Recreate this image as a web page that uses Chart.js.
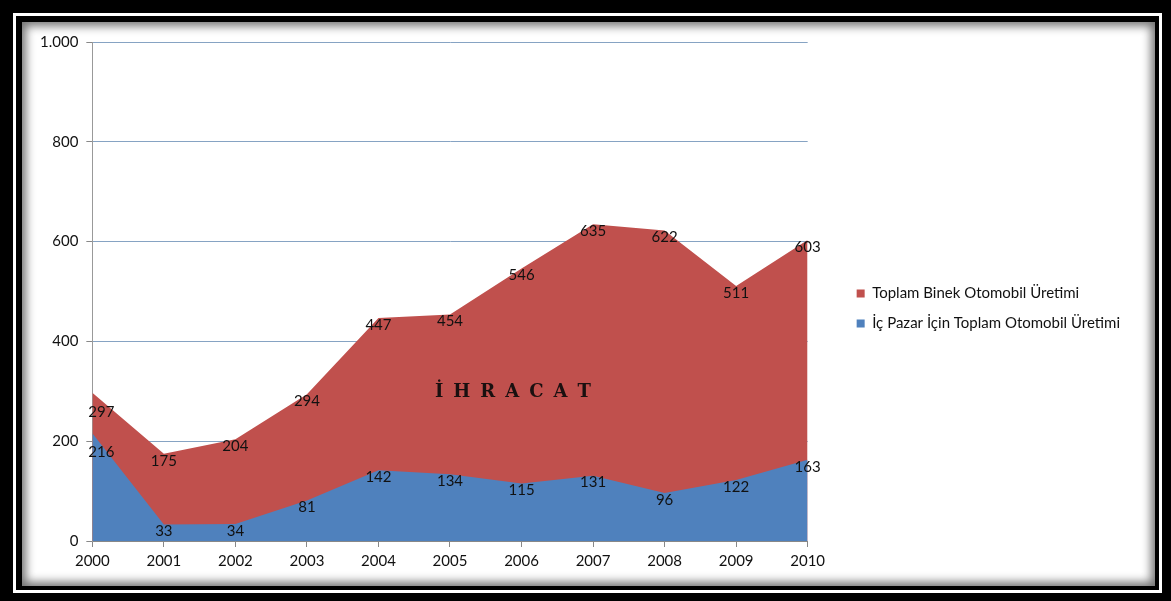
<!DOCTYPE html>
<html lang="tr">
<head>
<meta charset="utf-8">
<title>Otomobil Üretimi 2000-2010</title>
<script src="https://cdn.jsdelivr.net/npm/chart.js@4.4.1/dist/chart.umd.min.js"></script>
<style>
  html, body { margin: 0; padding: 0; }
  body { width: 1171px; height: 601px; background: #000; position: relative; overflow: hidden; }
  #cerceve { position: absolute; left: 13px; top: 13px; width: 1143px; height: 574px; border: 3px solid #fff; }
  #ic { position: absolute; left: 0; top: 0; right: 0; bottom: 0; border-style: solid; border-color: #000;
        border-width: 6px 4px 4px 6px; background: #fff;
        box-shadow: inset 0 0 10px 4px rgba(0,0,0,0.55); }
  #kutu { position: absolute; left: 22px; top: 22px; width: 1133px; height: 564px; }
</style>
</head>
<body>
<div id="cerceve"><div id="ic"></div></div>
<div id="kutu"><canvas id="grafik"></canvas></div>
<script>
// yıllar ve üretim değerleri (bin adet)
const yillar = ['2000', '2001', '2002', '2003', '2004', '2005', '2006', '2007', '2008', '2009', '2010'];
const toplamUretim = [297, 175, 204, 294, 447, 454, 546, 635, 622, 511, 603];
const icPazarUretim = [216, 33, 34, 81, 142, 134, 115, 131, 96, 122, 163];
const yEksenMin = 0;
const yEksenMax = 1000;
const yEksenAdim = 200;
const ihracatYazi = 'İHRACAT';
const ihracatKonum = [5.88, 297]; // x: kategori sırası, y: değer

const yaziTipi = "Lato, 'Open Sans', sans-serif";

// 1000 -> "1.000"
let binlikAyir = (v) => String(v).replace(/\B(?=(\d{3})+(?!\d))/g, '.');

// her noktanın değerini noktanın hemen altına yazar
const degerEtiketleri = {
    id: 'degerEtiketleri',
    afterDatasetsDraw(chart) {
        const ctx = chart.ctx;
        ctx.save();
        ctx.font = '15px ' + yaziTipi;
        ctx.fillStyle = '#111';
        ctx.textAlign = 'center';
        ctx.textBaseline = 'middle';
        chart.data.datasets.forEach((ds, i) => {
            const meta = chart.getDatasetMeta(i);
            meta.data.forEach((nokta, j) => {
                let dx = 0;
                let dy = 7;
                if (j === 0) { dx = 9; dy = 19; }
                ctx.fillText(ds.data[j], nokta.x + dx, nokta.y + dy);
            });
        });
        ctx.restore();
    }
};

// alanın ortasına "İHRACAT" yazısı
const ihracatEtiketi = {
    id: 'ihracatEtiketi',
    afterDatasetsDraw(chart) {
        const ctx = chart.ctx;
        const x = chart.scales.x.getPixelForValue(ihracatKonum[0]);
        const y = chart.scales.y.getPixelForValue(ihracatKonum[1]);
        ctx.save();
        ctx.font = 'bold 18px "DejaVu Serif", "Liberation Serif", serif';
        ctx.fillStyle = '#1a1010';
        ctx.textBaseline = 'middle';
        const bosluk = 10;
        const harfler = Array.from(ihracatYazi);
        let toplam = 0;
        harfler.forEach(h => toplam += ctx.measureText(h).width);
        toplam += bosluk * (harfler.length - 1);
        let cx = x - toplam / 2;
        harfler.forEach(h => {
            ctx.fillText(h, cx, y);
            cx += ctx.measureText(h).width + bosluk;
        });
        ctx.restore();
    }
};

const ctx = document.getElementById('grafik');

new Chart(ctx, {
    type: 'line',
    data: {
        labels: yillar,
        datasets: [{
            label: 'Toplam Binek Otomobil Üretimi',
            data: toplamUretim,
            backgroundColor: '#C0504D',
            borderColor: '#C0504D',
            borderWidth: 0,
            fill: 'origin',
            pointRadius: 0,
            order: 1
        }, {
            label: 'İç Pazar İçin Toplam Otomobil Üretimi',
            data: icPazarUretim,
            backgroundColor: '#4F81BD',
            borderColor: '#4F81BD',
            borderWidth: 0,
            fill: 'origin',
            pointRadius: 0,
            order: 0
        }]
    },
    options: {
        responsive: true,
        maintainAspectRatio: false,
        animation: false,
        layout: { padding: { left: 10, top: 20, right: 25, bottom: 11 } },
        elements: { line: { tension: 0 } },
        scales: {
            x: {
                offset: false,
                grid: { drawOnChartArea: false, drawTicks: true, tickLength: 6, color: '#888' },
                border: { color: '#888' },
                ticks: { color: '#111', font: { family: yaziTipi, size: 15 }, padding: 5, maxRotation: 0 }
            },
            y: {
                min: yEksenMin,
                max: yEksenMax,
                grid: { color: '#86A3C3', tickColor: '#888', tickLength: 6 },
                border: { color: '#999' },
                ticks: {
                    stepSize: yEksenAdim,
                    color: '#111',
                    font: { family: yaziTipi, size: 15 },
                    padding: 8,
                    callback: (v) => binlikAyir(v)
                }
            },
            // çizim alanı ile legend arasında boşluk bırakan görünmez eksen
            bosluk: {
                position: 'right',
                min: yEksenMin,
                max: yEksenMax,
                grid: { display: false, drawTicks: false },
                border: { display: false },
                ticks: { display: false },
                afterFit: (s) => { s.width = 34; }
            }
        },
        plugins: {
            legend: {
                position: 'right',
                align: 'center',
                maxWidth: 400,
                labels: {
                    boxWidth: 8,
                    boxHeight: 8,
                    padding: 15,
                    color: '#111',
                    font: { family: yaziTipi, size: 15 },
                    sort: (a, b) => a.datasetIndex - b.datasetIndex
                }
            },
            tooltip: { enabled: false }
        }
    },
    plugins: [degerEtiketleri, ihracatEtiketi]
});
</script>
</body>
</html>
